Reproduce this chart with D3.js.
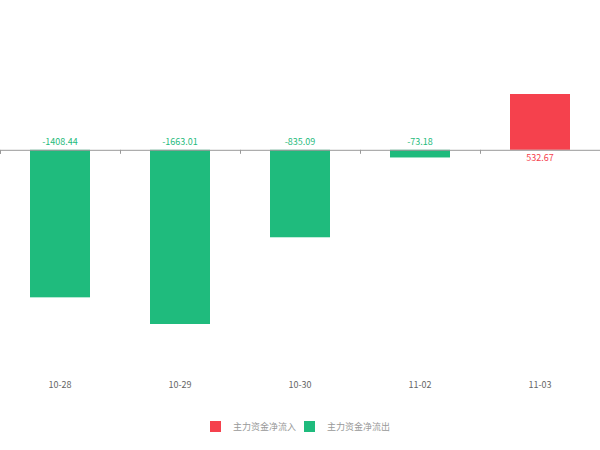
<!DOCTYPE html><html><head><meta charset="utf-8"><script src="https://d3js.org/d3.v7.min.js"></script>
<style>body{margin:0;background:#fff}</style></head><body><svg width="600" height="450"></svg>
<script>
const categories=["10-28","10-29","10-30","11-02","11-03"];
const values=[-1408.44,-1663.01,-835.09,-73.18,532.67];
const labels=["-1408.44","-1663.01","-835.09","-73.18","532.67"];
const legendNames=["主力资金净流入","主力资金净流出"];
const svg=d3.select("svg");
const red="#f5414d",green="#1fbb7d";
const x=d3.scaleBand().domain(categories).range([0,600]).paddingInner(0.5).paddingOuter(0.25);
const y=d3.scaleLinear().domain([-1663.01,532.67]).range([324,94]);
const font="'Noto Sans CJK SC','Noto Sans',sans-serif";
svg.selectAll(".bar").data(values).join("rect")
 .attr("x",(d,i)=>x(categories[i])).attr("width",x.bandwidth())
 .attr("y",d=>y(Math.max(0,d))).attr("height",d=>Math.abs(y(d)-y(0)))
 .attr("fill",d=>d>=0?red:green);
const ax=svg.append("g").attr("transform",`translate(0,${y(0)})`)
 .call(d3.axisBottom(d3.scaleLinear().domain([0,5]).range([0,600])).ticks(5).tickSize(4).tickFormat(""));
ax.select(".domain").attr("stroke","#999");ax.selectAll("line").attr("stroke","#999");
svg.selectAll(".lab").data(values).join("text")
 .attr("x",(d,i)=>x(categories[i])+x.bandwidth()/2)
 .attr("y",d=>d>=0?y(0)+11:y(0)-5).attr("text-anchor","middle")
 .attr("font-size",9).attr("font-family",font).attr("fill",d=>d>=0?red:green)
 .text((d,i)=>labels[i]);
svg.selectAll(".cat").data(categories).join("text")
 .attr("x",d=>x(d)+x.bandwidth()/2).attr("y",388).attr("text-anchor","middle")
 .attr("font-size",9).attr("font-family",font).attr("fill","#666").text(d=>d);
const lg=[[210,red],[304,green]];
lg.forEach(([lx,c],i)=>{
 svg.append("rect").attr("x",lx).attr("y",421).attr("width",11).attr("height",11).attr("fill",c);
 svg.append("text").attr("x",lx+23).attr("y",430).attr("font-size",9).attr("font-family",font).attr("fill","#999").text(legendNames[i]);
});
</script></body></html>
